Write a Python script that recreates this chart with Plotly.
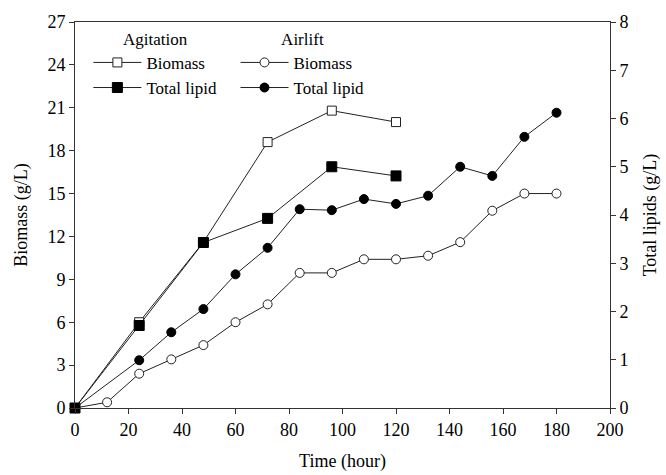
import plotly.graph_objects as go

# Agitation
agit_time = [0, 24, 48, 72, 96, 120]
agit_biomass = [0, 6.0, 11.6, 18.6, 20.8, 20.0]
agit_lipid = [0, 1.71, 3.43, 3.93, 5.0, 4.81]

# Airlift
air_time_bio = [0, 12, 24, 36, 48, 60, 72, 84, 96, 108, 120, 132, 144, 156, 168, 180]
air_biomass = [0, 0.4, 2.4, 3.4, 4.4, 6.0, 7.25, 9.45, 9.45, 10.4, 10.4, 10.65, 11.6, 13.8, 15.0, 15.0]
air_time_lip = [0, 24, 36, 48, 60, 72, 84, 96, 108, 120, 132, 144, 156, 168, 180]
air_lipid = [0, 0.99, 1.57, 2.05, 2.77, 3.32, 4.12, 4.10, 4.33, 4.23, 4.40, 5.0, 4.81, 5.62, 6.12]

x_ticks = list(range(0, 201, 20))
y_ticks = list(range(0, 28, 3))
y2_ticks = list(range(0, 9, 1))

FONT = "Liberation Serif"
LC = "#222222"
FS = 18

fig = go.Figure()
fig.add_trace(go.Scatter(
    x=agit_time, y=agit_biomass, name="Biomass", mode="lines+markers",
    line=dict(color=LC, width=1),
    marker=dict(symbol="square", size=9, color="white", line=dict(color=LC, width=1)),
    legend="legend", cliponaxis=False))
fig.add_trace(go.Scatter(
    x=agit_time, y=agit_lipid, name="Total lipid", mode="lines+markers", yaxis="y2",
    line=dict(color=LC, width=1),
    marker=dict(symbol="square", size=10, color="black", line=dict(color="black", width=1)),
    legend="legend", cliponaxis=False))
fig.add_trace(go.Scatter(
    x=air_time_bio, y=air_biomass, name="Biomass", mode="lines+markers",
    line=dict(color=LC, width=1),
    marker=dict(symbol="circle", size=9, color="white", line=dict(color=LC, width=1)),
    legend="legend2", cliponaxis=False))
fig.add_trace(go.Scatter(
    x=air_time_lip, y=air_lipid, name="Total lipid", mode="lines+markers", yaxis="y2",
    line=dict(color=LC, width=1),
    marker=dict(symbol="circle", size=9, color="black", line=dict(color="black", width=1)),
    legend="legend2", cliponaxis=False))

axis_common = dict(
    showgrid=False, zeroline=False, showline=True, linecolor="#333333", linewidth=1,
    ticks="outside", ticklen=5, tickcolor="#333333", tickwidth=1, automargin=False,
    tickfont=dict(family=FONT, size=FS, color="black"),
)

fig.update_layout(
    width=666, height=475,
    margin=dict(l=75, r=56, t=22, b=67),
    paper_bgcolor="white", plot_bgcolor="white",
    font=dict(family=FONT, size=FS, color="black"),
    showlegend=True,
    xaxis=dict(range=[0, 200], tickvals=x_ticks, mirror=True,
               title=dict(text="Time (hour)", font=dict(family=FONT, size=FS)), **axis_common),
    yaxis=dict(range=[0, 27], tickvals=y_ticks,
               title=dict(text="Biomass (g/L)", font=dict(family=FONT, size=FS)), **axis_common),
    yaxis2=dict(range=[0, 8], tickvals=y2_ticks, overlaying="y", side="right",
                title=dict(text="Total lipids (g/L)", font=dict(family=FONT, size=FS)), **axis_common),
    legend=dict(x=0.025, y=0.998, xanchor="left", yanchor="top", bgcolor="rgba(0,0,0,0)",
                title=dict(text="Agitation", side="top center", font=dict(family=FONT, size=17)),
                font=dict(family=FONT, size=17), tracegroupgap=0, itemwidth=48),
    legend2=dict(x=0.30, y=0.998, xanchor="left", yanchor="top", bgcolor="rgba(0,0,0,0)",
                 title=dict(text="Airlift", side="top center", font=dict(family=FONT, size=17)),
                 font=dict(family=FONT, size=17), tracegroupgap=0, itemwidth=48),
)

fig.write_html("out.html")
